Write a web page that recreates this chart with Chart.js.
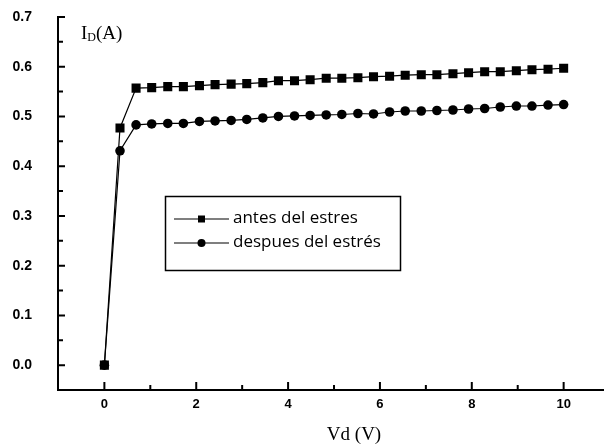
<!DOCTYPE html>
<html>
<head>
<meta charset="utf-8">
<script src="https://cdn.jsdelivr.net/npm/chart.js@4"></script>
<style>
  html, body { margin: 0; padding: 0; background: #fff; }
  #wrap { width: 610px; height: 445px; }
</style>
</head>
<body>
<div id="wrap"><canvas id="chart" width="610" height="445"></canvas></div>
<script>
// Vd (V) de cada medida
const vd = [0, 0.34, 0.69, 1.03, 1.38, 1.72, 2.07, 2.41, 2.76, 3.10, 3.45, 3.79, 4.14, 4.48, 4.83,
            5.17, 5.52, 5.86, 6.21, 6.55, 6.90, 7.24, 7.59, 7.93, 8.28, 8.62, 8.97, 9.31, 9.66, 10];

// ID (A) antes del estres
const antes = [0, 0.477, 0.557, 0.558, 0.560, 0.560, 0.562, 0.564, 0.565, 0.566, 0.568, 0.572, 0.572, 0.574, 0.577,
               0.577, 0.578, 0.580, 0.581, 0.583, 0.584, 0.584, 0.586, 0.588, 0.590, 0.590, 0.592, 0.594, 0.595, 0.597];

// ID (A) despues del estres
const despues = [0, 0.431, 0.483, 0.485, 0.486, 0.486, 0.490, 0.491, 0.492, 0.494, 0.497, 0.500, 0.501, 0.502, 0.503,
                 0.504, 0.506, 0.505, 0.509, 0.511, 0.511, 0.512, 0.513, 0.515, 0.516, 0.519, 0.521, 0.521, 0.523, 0.524];

const xTicks = [0, 2, 4, 6, 8, 10];
const xMinor = [1, 3, 5, 7, 9];
const yTicks = [0, 0.1, 0.2, 0.3, 0.4, 0.5, 0.6, 0.7];
const yMinor = [0.05, 0.15, 0.25, 0.35, 0.45, 0.55, 0.65];

const legendItems = ['antes del estres', 'despues del estrés'];

function toPoints(ys) {
    return vd.map((x, i) => ({ x: x, y: ys[i] }));
}

// --- marcas hacia adentro, titulos y leyenda ---
const decor = {
    id: 'decor',
    afterDraw(chart) {
        const ctx = chart.ctx;
        const xs = chart.scales.x, ys = chart.scales.y;
        const left = chart.chartArea.left, bottom = chart.chartArea.bottom;
        ctx.save();
        ctx.strokeStyle = '#000';
        ctx.lineWidth = 2;
        ctx.beginPath();
        yTicks.forEach(v => { const p = ys.getPixelForValue(v); ctx.moveTo(left, p); ctx.lineTo(left + 7, p); });
        yMinor.forEach(v => { const p = ys.getPixelForValue(v); ctx.moveTo(left, p); ctx.lineTo(left + 5, p); });
        xTicks.forEach(v => { const p = xs.getPixelForValue(v); ctx.moveTo(p, bottom); ctx.lineTo(p, bottom - 8); });
        xMinor.forEach(v => { const p = xs.getPixelForValue(v); ctx.moveTo(p, bottom); ctx.lineTo(p, bottom - 5); });
        ctx.stroke();

        // titulos
        ctx.fillStyle = '#000';
        ctx.textBaseline = 'alphabetic';
        ctx.font = '19px "Liberation Serif", serif';
        ctx.textAlign = 'left';
        ctx.fillText('I', 81, 39);
        const wI = ctx.measureText('I').width;
        ctx.font = '12px "Liberation Serif", serif';
        ctx.fillText('D', 81 + wI, 41);
        const wD = ctx.measureText('D').width;
        ctx.font = '19px "Liberation Serif", serif';
        ctx.fillText('(A)', 81 + wI + wD, 39);

        ctx.font = '19px "Liberation Serif", serif';
        ctx.textAlign = 'center';
        ctx.fillText('Vd (V)', 354, 440);

        // leyenda
        ctx.lineWidth = 1.5;
        ctx.strokeRect(165.5, 196.5, 235, 74);
        const rows = [219, 243];
        ctx.lineWidth = 1.2;
        ctx.font = '17px "Open Sans", "Liberation Sans", sans-serif';
        ctx.textAlign = 'left';
        ctx.textBaseline = 'middle';
        rows.forEach((y, i) => {
            ctx.beginPath();
            ctx.moveTo(174, y); ctx.lineTo(229, y);
            ctx.stroke();
            ctx.beginPath();
            if (i === 0) ctx.rect(198, y - 3.5, 7, 7);
            else ctx.arc(201.5, y, 4, 0, Math.PI * 2);
            ctx.fill();
            ctx.fillText(legendItems[i], 233, y - 1);
        });
        ctx.restore();
    }
};

function noPad(s) {
    s.paddingTop = 0; s.paddingBottom = 0; s.paddingLeft = 0; s.paddingRight = 0;
}

const ctx = document.getElementById('chart').getContext('2d');
new Chart(ctx, {
    type: 'line',
    data: {
        datasets: [
            {
                label: legendItems[0],
                data: toPoints(antes),
                borderColor: '#000',
                backgroundColor: '#000',
                borderWidth: 1.2,
                pointStyle: 'rect',
                pointRadius: 6.4,
                pointBorderWidth: 0,
                tension: 0
            },
            {
                label: legendItems[1],
                data: toPoints(despues),
                borderColor: '#000',
                backgroundColor: '#000',
                borderWidth: 1.2,
                pointStyle: 'circle',
                pointRadius: 4.8,
                pointBorderWidth: 0,
                tension: 0
            }
        ]
    },
    options: {
        responsive: false,
        animation: false,
        layout: { padding: { top: 17, right: 1, left: 0, bottom: 0 } },
        plugins: { legend: { display: false }, tooltip: { enabled: false } },
        scales: {
            x: {
                type: 'linear',
                min: -1.01,
                max: 10.87,
                afterFit: s => { s.height = 55; noPad(s); },
                afterBuildTicks: s => { s.ticks = xTicks.map(v => ({ value: v })); },
                grid: { display: true, drawOnChartArea: false, drawTicks: false },
                border: { display: true, color: '#000', width: 2 },
                ticks: {
                    color: '#000',
                    padding: 7,
                    maxRotation: 0,
                    font: { family: '"Liberation Sans", Arial, sans-serif', size: 13, weight: 'bold' },
                    callback: v => String(v)
                }
            },
            y: {
                min: -0.05,
                max: 0.7,
                afterFit: s => { s.width = 58; noPad(s); },
                afterBuildTicks: s => { s.ticks = yTicks.map(v => ({ value: v })); },
                grid: { display: true, drawOnChartArea: false, drawTicks: false },
                border: { display: true, color: '#000', width: 2 },
                ticks: {
                    color: '#000',
                    padding: 26,
                    font: { family: '"Liberation Sans", Arial, sans-serif', size: 14, weight: 'bold' },
                    callback: v => Number(v).toFixed(1)
                }
            }
        }
    },
    plugins: [decor]
});
</script>
</body>
</html>
